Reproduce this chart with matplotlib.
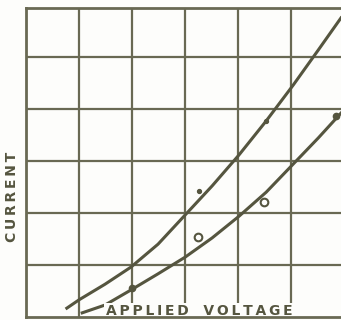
import matplotlib
matplotlib.use("Agg")
import matplotlib.pyplot as plt

# curves (grid units)
upper_x = [0.77, 1.00, 1.49, 1.98, 2.49, 3.00, 3.51, 4.02, 4.53, 5.04, 5.51, 5.94]
upper_y = [0.17, 0.33, 0.63, 0.96, 1.40, 1.96, 2.52, 3.12, 3.77, 4.46, 5.13, 5.75]
lower_x = [1.06, 1.49, 1.98, 2.49, 3.00, 3.51, 4.02, 4.53, 5.02, 5.51, 5.94]
lower_y = [0.08, 0.23, 0.52, 0.83, 1.15, 1.52, 1.94, 2.40, 2.92, 3.44, 3.92]

# measured points
dots_x = [3.26, 4.53]
dots_y = [2.42, 3.77]
open_x = [3.25, 4.49]
open_y = [1.54, 2.21]
filled_x = [2.00, 5.85]
filled_y = [0.56, 3.87]

xlabel = "APPLIED VOLTAGE"
ylabel = "CURRENT"

ink = "#55553f"
grid_c = "#696953"
paper = "#fdfdfb"


def spaced(s):
    return "   ".join("\u2009".join(w) for w in s.split(" "))


fig = plt.figure(figsize=(3.41, 3.20), dpi=100)
fig.patch.set_facecolor(paper)
ax = fig.add_axes([26 / 341, 3 / 320, 315 / 341, 309 / 320])
ax.set_facecolor(paper)
ax.set_xlim(0, 5.94)
ax.set_ylim(0, 5.94)

for v in range(1, 6):
    ax.axvline(v, color=grid_c, lw=1.6, zorder=1)
for h in range(1, 6):
    ax.axhline(h, color=grid_c, lw=1.6, zorder=1)

ax.plot(upper_x, upper_y, color=ink, lw=2.2, zorder=3)
ax.plot(lower_x, lower_y, color=ink, lw=2.2, zorder=3)
ax.plot(dots_x, dots_y, "o", color=ink, ms=2.8, zorder=4)
ax.plot(open_x, open_y, "o", mfc="none", mec=ink, mew=1.5, ms=5.5, zorder=4)
ax.plot(filled_x, filled_y, "o", color=ink, ms=4.5, zorder=4)

for s in ["left", "top", "bottom"]:
    ax.spines[s].set_color(grid_c)
    ax.spines[s].set_linewidth(2)
    ax.spines[s].set_zorder(6)
ax.spines["right"].set_visible(False)
ax.set_xticks([])
ax.set_yticks([])

ax.text(3.26, 0.11, spaced(xlabel), ha="center", va="center",
        fontsize=10, fontweight="bold", color=ink, family="DejaVu Sans",
        bbox=dict(boxstyle="square,pad=0.12", fc=paper, ec="none"), zorder=5)
fig.text(12 / 341, 1 - 197 / 320, spaced(ylabel), rotation=90, ha="center",
         va="center", fontsize=10, fontweight="bold", color=ink)

fig.savefig("out.png", dpi=100, facecolor=fig.get_facecolor())
